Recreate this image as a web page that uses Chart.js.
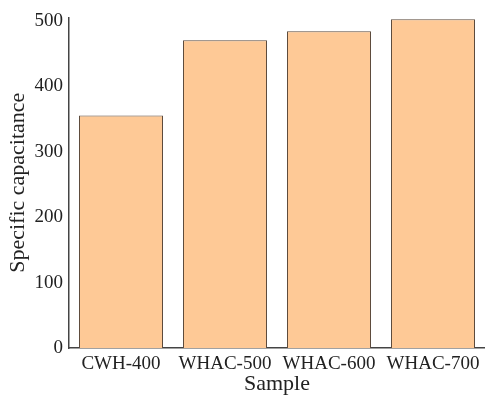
<!DOCTYPE html>
<html lang="en">
<head>
    <meta charset="UTF-8">
    <title>Specific capacitance</title>
    <script src="https://cdn.jsdelivr.net/npm/chart.js"></script>
    <style>
        html, body { margin: 0; padding: 0; background: #fff; }
        #wrap { width: 485px; height: 395px; }
    </style>
</head>
<body>
    <div id="wrap"><canvas id="grafica"></canvas></div>
    <script>
        const samples = ['CWH-400', 'WHAC-500', 'WHAC-600', 'WHAC-700'];
        const capacitance = [355, 470, 484, 502];
        const yTicks = [0, 100, 200, 300, 400, 500];
        const serif = 'Liberation Serif';

        new Chart(document.getElementById('grafica').getContext('2d'), {
            type: 'bar',
            data: {
                labels: samples,
                datasets: [{
                    data: capacitance,
                    backgroundColor: '#fec996',
                    borderColor: '#5b4a3c',
                    borderWidth: 1,
                    barPercentage: 0.808,
                    categoryPercentage: 1
                }]
            },
            options: {
                responsive: true,
                maintainAspectRatio: false,
                animation: false,
                layout: { padding: { top: 17, right: 0, left: 0, bottom: 0 } },
                plugins: { legend: { display: false }, tooltip: { enabled: false } },
                scales: {
                    x: {
                        grid: { display: false, drawTicks: false },
                        border: { display: true, color: '#444', width: 1.5 },
                        ticks: { color: '#222', padding: 5, font: { family: serif, size: 19 } },
                        title: { display: true, text: 'Sample', color: '#222', padding: { top: 0, bottom: -2 }, font: { family: serif, size: 22 } },
                        afterFit: a => { a.height = 47; }
                    },
                    y: {
                        min: 0, max: 505,
                        grid: { display: false, drawTicks: false },
                        border: { display: true, color: '#444', width: 1.5 },
                        ticks: { color: '#222', padding: 6, font: { family: serif, size: 19 } },
                        afterBuildTicks: a => { a.ticks = yTicks.map(v => ({ value: v })); },
                        title: { display: true, text: 'Specific capacitance', color: '#222', padding: { top: 5, bottom: 0 }, font: { family: serif, size: 22 } },
                        afterFit: a => { a.width = 69; }
                    }
                }
            }
        });
    </script>
</body>
</html>
